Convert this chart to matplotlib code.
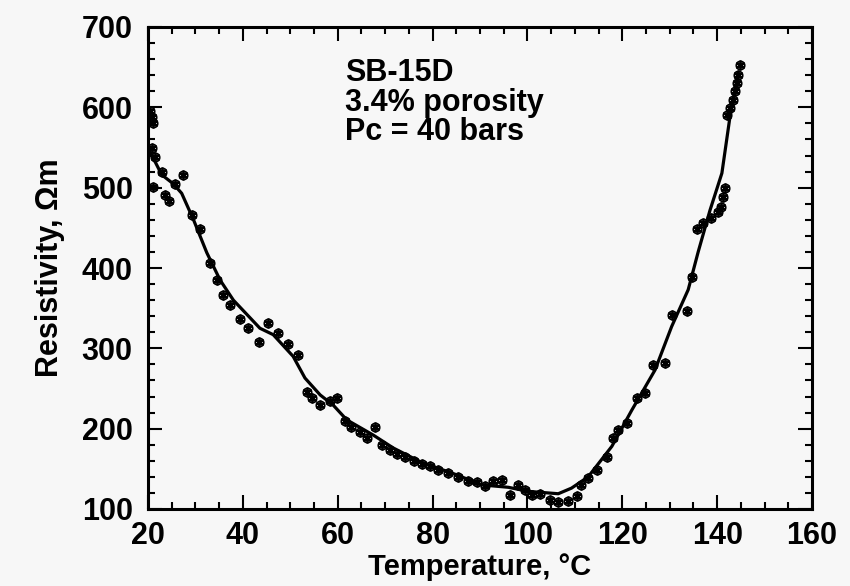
import numpy as np
import matplotlib.pyplot as plt
from matplotlib.ticker import MultipleLocator

# measured points (temperature degC, resistivity ohm-m)
temp_pts = [20.5, 20.8, 21.0, 20.8, 21.5, 22.9, 21.1, 23.6, 24.5, 25.7, 27.4,
            29.2, 31.0, 33.1, 34.5, 35.9, 37.3, 39.4, 41.1, 43.3, 45.4, 47.5,
            49.6, 51.7, 53.5, 54.6, 56.3, 58.4, 59.8, 61.5, 62.9, 64.7, 66.1,
            67.9, 69.3, 71.0, 72.4, 74.2, 76.0, 77.7, 79.5, 81.2, 83.3, 85.4,
            87.5, 89.3, 91.1, 92.8, 94.6, 96.3, 98.1, 99.5, 100.9, 102.7, 104.8,
            106.5, 108.6, 110.4, 111.4, 112.8, 114.6, 116.7, 118.1, 119.2, 120.9,
            123.0, 124.8, 126.5, 129.0, 130.4, 133.6, 134.6, 135.7, 137.1, 138.8,
            140.2, 140.9, 141.3, 141.7, 142.0, 142.7, 143.4, 143.8, 144.1, 144.5,
            144.8]
res_pts = [595, 588, 580, 549, 538, 520, 501, 491, 483, 505, 516,
           466, 449, 406, 385, 366, 354, 337, 325, 308, 332, 319,
           305, 292, 246, 238, 229, 234, 238, 209, 202, 196, 188,
           202, 180, 174, 169, 165, 160, 156, 153, 148, 145, 140,
           135, 133, 129, 135, 136, 117, 130, 124, 117, 119, 111,
           109, 110, 116, 130, 138, 149, 165, 188, 198, 207,
           238, 244, 279, 282, 341, 346, 389, 449, 456, 462,
           470, 476, 489, 499, 590, 599, 609, 620, 630, 640,
           653]

# smoothed fit curve
temp_fit = [20.4, 22.9, 25.3, 27.1, 29.6, 32.4, 35.2, 38.0, 43.6, 46.4, 50.6,
            53.1, 56.3, 59.1, 61.9, 67.5, 71.7, 78.0, 84.0, 90.4, 96.0, 100.1,
            106.5, 109.3, 112.8, 117.8, 122.0, 126.9, 130.4, 133.9, 136.0,
            138.5, 141.0, 142.7, 143.8, 144.4]
res_fit = [545, 516, 505, 493, 460, 419, 385, 360, 325, 317, 290,
           263, 242, 229, 211, 192, 176, 157, 145, 130, 127, 122,
           119, 126, 140, 178, 223, 273, 327, 373, 420,
           472, 518, 588, 622, 643]

plt.rcParams['font.family'] = ['Liberation Sans', 'DejaVu Sans']
plt.rcParams['font.weight'] = 'bold'

fig = plt.figure(figsize=(8.5, 5.86), dpi=100)
fig.patch.set_facecolor('#f7f7f7')
ax = fig.add_axes([148 / 850, 1 - 509 / 586, 664 / 850, 482 / 586])
ax.set_facecolor('#f7f7f7')

ax.plot(temp_fit, res_fit, '-', color='black', lw=2.3, zorder=3)
ax.plot(temp_pts, res_pts, 'o', ms=6, mfc='none', mec='black', mew=1.3, zorder=4)
ax.plot(temp_pts, res_pts, marker=(6, 2, 0), ls='none', ms=7, mec='black', mew=1.3, zorder=4)

ax.set_xlim(20, 160)
ax.set_ylim(100, 700)
ax.xaxis.set_major_locator(MultipleLocator(20))
ax.xaxis.set_minor_locator(MultipleLocator(5))
ax.yaxis.set_major_locator(MultipleLocator(100))
ax.yaxis.set_minor_locator(MultipleLocator(20))
ax.tick_params(which='both', direction='in', top=True, right=True, width=1.5, colors='black')
ax.tick_params(which='major', length=10, labelsize=22)
ax.tick_params(which='minor', length=5)
ax.tick_params(axis='x', which='major', pad=9)
ax.tick_params(axis='y', which='major', pad=11)
for lab in ax.get_xticklabels() + ax.get_yticklabels():
    lab.set_fontweight('bold')
for s in ax.spines.values():
    s.set_linewidth(2.2)

ax.set_xlabel('Temperature, °C', fontsize=21, fontweight='bold', labelpad=1)
ax.set_ylabel('Resistivity, Ωm', fontsize=22, fontweight='bold', labelpad=12)

ax.text(61.5, 661, 'SB-15D\n3.4% porosity\nPc = 40 bars', fontsize=22,
        fontweight='bold', va='top', ha='left', linespacing=0.98)

fig.savefig('out.png', dpi=100, facecolor=fig.get_facecolor())
